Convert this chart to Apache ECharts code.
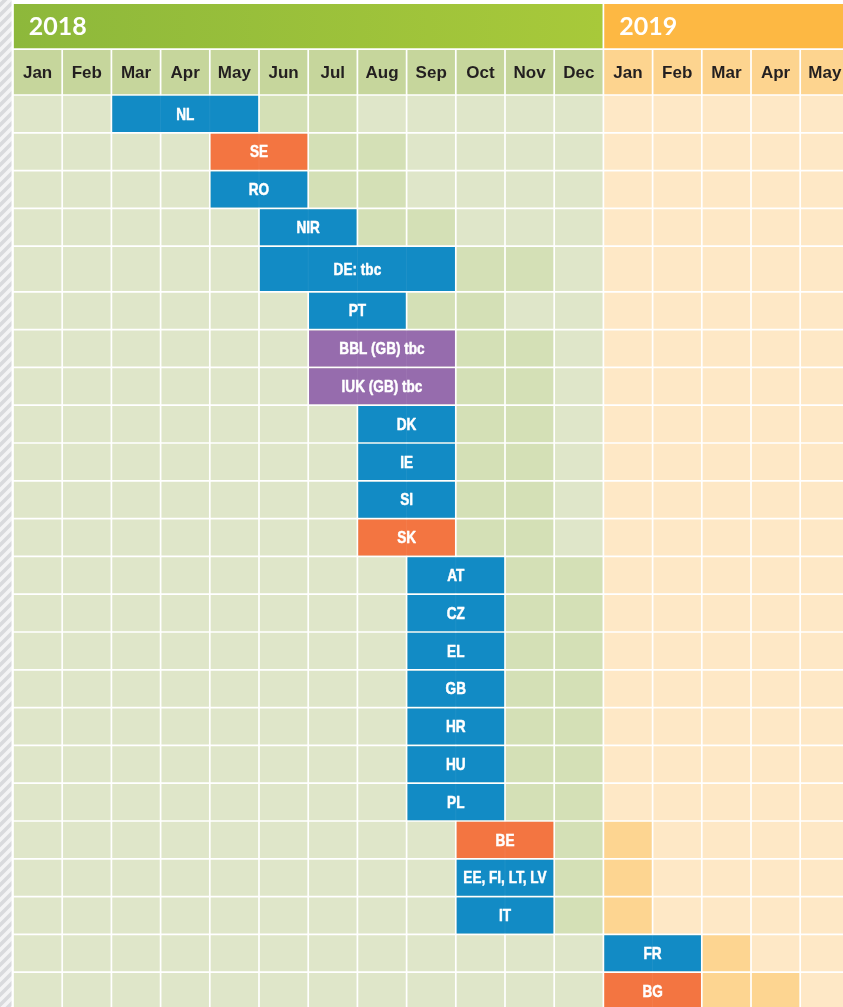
<!DOCTYPE html>
<html>
<head>
<meta charset="utf-8">
<script src="https://cdn.jsdelivr.net/npm/echarts@6/dist/echarts.min.js"></script>
<style>
  html, body { margin: 0; padding: 0; background: #ffffff; }
  #chart { width: 843px; height: 1007px; }
</style>
</head>
<body>
<div id="chart"></div>
<script>
// Timeline columns: Jan 2018 to May 2019
const monthLabels = ['Jan', 'Feb', 'Mar', 'Apr', 'May', 'Jun', 'Jul', 'Aug', 'Sep', 'Oct', 'Nov', 'Dec',
                     'Jan', 'Feb', 'Mar', 'Apr', 'May'];
const yearLabels = ['2018', '2019'];
const yearFirstMonth = [0, 12];   // column index where each year starts
const yearEndMonth = [12, 17];    // column index after each year's last shown month

// One row per publication
const rowLabels = ['NL', 'SE', 'RO', 'NIR', 'DE: tbc', 'PT', 'BBL (GB) tbc', 'IUK (GB) tbc',
                   'DK', 'IE', 'SI', 'SK', 'AT', 'CZ', 'EL', 'GB', 'HR', 'HU', 'PL',
                   'BE', 'EE, FI, LT, LV', 'IT', 'FR', 'BG'];
const startMonth = [2, 4, 4, 5, 5, 6, 6, 6, 7, 7, 7, 7, 8, 8, 8, 8, 8, 8, 8, 9, 9, 9, 12, 12];
const endMonth   = [5, 6, 6, 7, 9, 8, 9, 9, 9, 9, 9, 9, 10, 10, 10, 10, 10, 10, 10, 11, 11, 11, 14, 14];
// months marked in a deeper tint after each slot
const followMonths = [2, 2, 2, 2, 2, 2, 2, 2, 2, 2, 2, 2, 2, 2, 2, 2, 2, 2, 2, 2, 2, 2, 1, 2];
const rowKind = ['blue', 'orange', 'blue', 'blue', 'blue', 'blue', 'purple', 'purple',
                 'blue', 'blue', 'blue', 'orange', 'blue', 'blue', 'blue', 'blue', 'blue', 'blue', 'blue',
                 'orange', 'blue', 'blue', 'blue', 'orange'];

// ---- styling ----
const KIND_COLORS = { blue: '#128bc5', orange: '#f37541', purple: '#966cad' };
const CELL = {
  y2018: { base: '#dfe6c9', follow: '#d4e0b6', head: '#c6d69c' },
  y2019: { base: '#fee8c6', follow: '#fdd591', head: '#fdd48f' }
};
const YEAR_FILLS = [
  new echarts.graphic.LinearGradient(0, 0, 1, 0, [
    { offset: 0, color: '#8db83b' }, { offset: 1, color: '#a8c93a' }
  ]),
  '#fdb843'
];
const TALL_ROWS = { 'DE: tbc': 1.206 };
const COL_PX = 49.2;           // width of one month column
const UNIT_PX = 37.8;          // height of a regular row
const HEADER_UNITS = 91.8 / UNIT_PX;
const GAP = 0.85;              // half of the white rule between cells
const GRID_LEFT = 13, GRID_TOP = 3.2, VIEW_W = 843, VIEW_H = 1007;
const MONTH_FONT = 'bold 17px "Liberation Sans", Arial, sans-serif';
const BAR_FONT = 'bold 17px "Liberation Sans", Arial, sans-serif';
const BAR_FONT_SQUEEZE = 0.8;  // condensed look for the slot labels
const YEAR_FONT = 'bold 25px Lato, "Open Sans", sans-serif';

const rowWeight = rowLabels.map(l => TALL_ROWS[l] || 1);
const rowTop = [];
let acc = 0;
rowWeight.forEach(w => { rowTop.push(acc); acc += w; });

// the grid runs to the page edges; the last column and row are cut by the frame
const gridW = VIEW_W - GRID_LEFT;
const gridH = VIEW_H - GRID_TOP;
const xMax = gridW / COL_PX;
const yMax = gridH / UNIT_PX - HEADER_UNITS;

function cellRect(api, x0, x1, y0, y1) {
  const a = api.coord([x0, y0]);
  const b = api.coord([x1, y1]);
  return {
    x: a[0] + GAP, y: a[1] + GAP,
    width: b[0] - a[0] - 2 * GAP, height: b[1] - a[1] - 2 * GAP
  };
}

// background cells
const cellData = [];
rowLabels.forEach((_, r) => {
  for (let c = 0; c < monthLabels.length; c++) {
    const follow = c >= endMonth[r] && c < endMonth[r] + followMonths[r] ? 1 : 0;
    cellData.push([c, r, follow]);
  }
});

// header data
const yearData = yearLabels.map((y, i) => [yearFirstMonth[i], yearEndMonth[i], i]);
const monthData = monthLabels.map((m, i) => [i]);
const barData = rowLabels.map((l, r) => [startMonth[r], endMonth[r], r]);

// diagonal hatch strip on the left edge
function hatchPattern() {
  const cv = document.createElement('canvas');
  cv.width = 10; cv.height = 10;
  const ctx = cv.getContext('2d');
  ctx.fillStyle = '#d9dadd';
  ctx.fillRect(0, 0, 10, 10);
  ctx.strokeStyle = '#f4f4f5';
  ctx.lineWidth = 3.5;
  ctx.beginPath();
  ctx.moveTo(-2, 12); ctx.lineTo(12, -2);
  ctx.moveTo(-7, 7); ctx.lineTo(7, -7);
  ctx.moveTo(3, 17); ctx.lineTo(17, 3);
  ctx.stroke();
  return cv;
}

const chart = echarts.init(document.getElementById('chart'), null, { renderer: 'canvas' });

chart.setOption({
  animation: false,
  backgroundColor: '#ffffff',
  grid: { left: GRID_LEFT, top: GRID_TOP, right: 0, bottom: 0 },
  xAxis: { type: 'value', min: 0, max: xMax, show: false },
  yAxis: { type: 'value', min: -HEADER_UNITS, max: yMax, inverse: true, show: false },
  graphic: [{
    type: 'rect',
    shape: { x: 0, y: 0, width: 11.5, height: VIEW_H },
    style: { fill: { image: hatchPattern(), repeat: 'repeat' } },
    silent: true
  }],
  series: [
    {
      type: 'custom',
      name: 'cells',
      data: cellData,
      silent: true,
      renderItem: (params, api) => {
        const c = api.value(0), r = api.value(1), follow = api.value(2);
        const pal = c < 12 ? CELL.y2018 : CELL.y2019;
        return {
          type: 'rect',
          shape: cellRect(api, c, c + 1, rowTop[r], rowTop[r] + rowWeight[r]),
          style: { fill: follow ? pal.follow : pal.base }
        };
      }
    },
    {
      type: 'custom',
      name: 'years',
      data: yearData,
      silent: true,
      renderItem: (params, api) => {
        const x0 = api.value(0), x1 = api.value(1), i = api.value(2);
        const rect = cellRect(api, x0, x1, -HEADER_UNITS, -HEADER_UNITS / 2);
        return {
          type: 'group',
          children: [
            { type: 'rect', shape: rect, style: { fill: YEAR_FILLS[i] } },
            {
              type: 'text',
              x: rect.x + 15, y: rect.y + rect.height / 2 + 1,
              style: { text: yearLabels[i], fill: '#ffffff', font: YEAR_FONT, align: 'left', verticalAlign: 'middle' }
            }
          ]
        };
      }
    },
    {
      type: 'custom',
      name: 'months',
      data: monthData,
      silent: true,
      renderItem: (params, api) => {
        const c = api.value(0);
        const pal = c < 12 ? CELL.y2018 : CELL.y2019;
        const rect = cellRect(api, c, c + 1, -HEADER_UNITS / 2, 0);
        return {
          type: 'group',
          children: [
            { type: 'rect', shape: rect, style: { fill: pal.head } },
            {
              type: 'text',
              x: rect.x + rect.width / 2, y: rect.y + rect.height / 2 + 1,
              style: { text: monthLabels[c], fill: '#231f20', font: MONTH_FONT, align: 'center', verticalAlign: 'middle' }
            }
          ]
        };
      }
    },
    {
      type: 'custom',
      name: 'slots',
      data: barData,
      silent: true,
      renderItem: (params, api) => {
        const s = api.value(0), e = api.value(1), r = api.value(2);
        const rect = cellRect(api, s, e, rowTop[r], rowTop[r] + rowWeight[r]);
        const children = [{ type: 'rect', shape: rect, style: { fill: KIND_COLORS[rowKind[r]] } }];
        // faint month rules running through the bar
        for (let m = s + 1; m < e; m++) {
          const px = api.coord([m, 0])[0];
          children.push({
            type: 'rect',
            shape: { x: px - 0.5, y: rect.y, width: 1, height: rect.height },
            style: { fill: 'rgba(255,255,255,0.06)' }
          });
        }
        children.push({
          type: 'text',
          x: rect.x + rect.width / 2, y: rect.y + rect.height / 2 + 1,
          scaleX: BAR_FONT_SQUEEZE,
          style: {
            text: rowLabels[r], fill: '#ffffff', font: BAR_FONT,
            stroke: '#ffffff', lineWidth: 0.5,
            align: 'center', verticalAlign: 'middle'
          }
        });
        return { type: 'group', children };
      }
    }
  ]
});
</script>
</body>
</html>
